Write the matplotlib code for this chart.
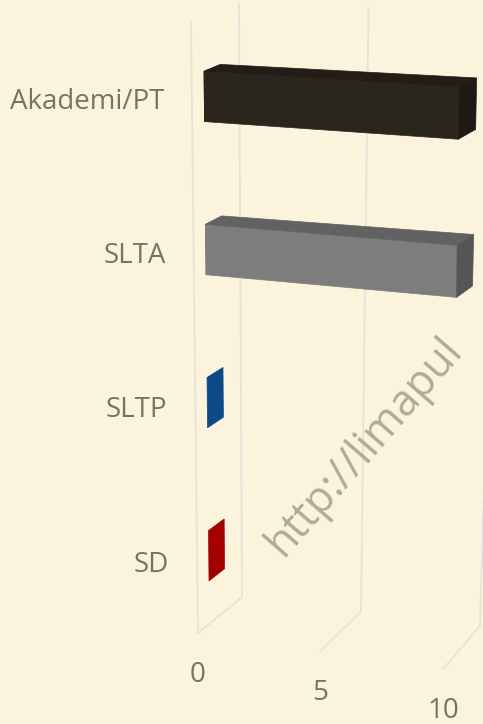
import matplotlib.pyplot as plt
from matplotlib.patches import Polygon
from matplotlib.colors import to_rgb

# Data, listed bottom to top as in the chart
categories = ["SD", "SLTP", "SLTA", "Akademi/PT"]
values = [0, 0, 10, 10]
x_ticks = [0, 5, 10]
bar_colors = ["#a30000", "#0b4a87", "#7d7d7d", "#2b261d"]

W, H = 483, 724
BG = "#fcf3dd"
TEXT = "#7b745d"
GRID = "#e5e2da"
FONT = "Open Sans"

# Screen corners of the 3D plot box, keyed by (value end, height end, depth end).
# Points inside are found by trilinear interpolation (cheap perspective look).
V_MAX = 10
CORNERS = {
    (0, 0, 0): (198, 633), (1, 0, 0): (443, 669),
    (0, 0, 1): (242, 597), (1, 0, 1): (480, 626),
    (0, 1, 0): (191, 22), (1, 1, 0): (446, 38),
    (0, 1, 1): (239, 4), (1, 1, 1): (498, 13),
}
CAT_START, CAT_STEP = 0.112, 0.2525  # height of the first category, spacing
BAR_HALF = 0.0415                    # half bar thickness (box height units)
DEPTH_FRONT, DEPTH_BACK = 0.26, 0.61


def project(v, h, d):
    a = v / V_MAX
    x = y = 0.0
    for (i, j, k), (px, py) in CORNERS.items():
        w = (a if i else 1 - a) * (h if j else 1 - h) * (d if k else 1 - d)
        x += w * px
        y += w * py
    return x, y


def shade(color, f):
    return tuple(c * f for c in to_rgb(color))


def face(ax, pts, color, z):
    ax.add_patch(Polygon([project(*p) for p in pts], closed=True,
                         facecolor=color, edgecolor=color, lw=0.5, zorder=z))


fig = plt.figure(figsize=(W / 100, H / 100), dpi=100, facecolor=BG)
ax = fig.add_axes([0, 0, 1, 1])
ax.set_facecolor(BG)
ax.set_xlim(0, W)
ax.set_ylim(H, 0)
ax.axis("off")

# wall / floor gridlines
for t in x_ticks:
    pts = [project(t, 1, 1), project(t, 0, 1), project(t, 0, 0)]
    ax.plot([p[0] for p in pts], [p[1] for p in pts], color=GRID, lw=1.3, zorder=1)
edge = [project(0, 0, 0), project(0, 1, 0)]
ax.plot([p[0] for p in edge], [p[1] for p in edge], color=GRID, lw=1.3, zorder=1)

# bars
d0, d1 = DEPTH_FRONT, DEPTH_BACK
for i, (cat, val, col) in enumerate(zip(categories, values, bar_colors)):
    hc = CAT_START + i * CAT_STEP
    h0, h1 = hc - BAR_HALF, hc + BAR_HALF
    face(ax, [(0, h1, d0), (0, h1, d1), (0, h0, d1), (0, h0, d0)], col, 2)
    if val > 0:
        face(ax, [(0, h1, d0), (val, h1, d0), (val, h0, d0), (0, h0, d0)], col, 3)
        face(ax, [(0, h1, d0), (0, h1, d1), (val, h1, d1), (val, h1, d0)],
             shade(col, 0.78), 3)
        face(ax, [(val, h1, d0), (val, h1, d1), (val, h0, d1), (val, h0, d0)],
             shade(col, 0.68), 3)

    lx, ly = project(0, hc, 0)
    ax.text(lx - 28, ly, cat, ha="right", va="center", fontsize=20,
            color=TEXT, family=FONT)

# value axis labels
for t in x_ticks:
    tx, ty = project(t, 0, 0)
    ax.text(tx, ty + 42, str(t), ha="center", va="center", fontsize=20,
            color=TEXT, family=FONT)

# watermark
ax.text(283, 558, "http://limapul", rotation=49, rotation_mode="anchor",
        ha="left", va="baseline", fontsize=31, color="#b2a999",
        family=FONT, zorder=4, clip_on=True)

fig.savefig("out.png", dpi=100, facecolor=BG)
